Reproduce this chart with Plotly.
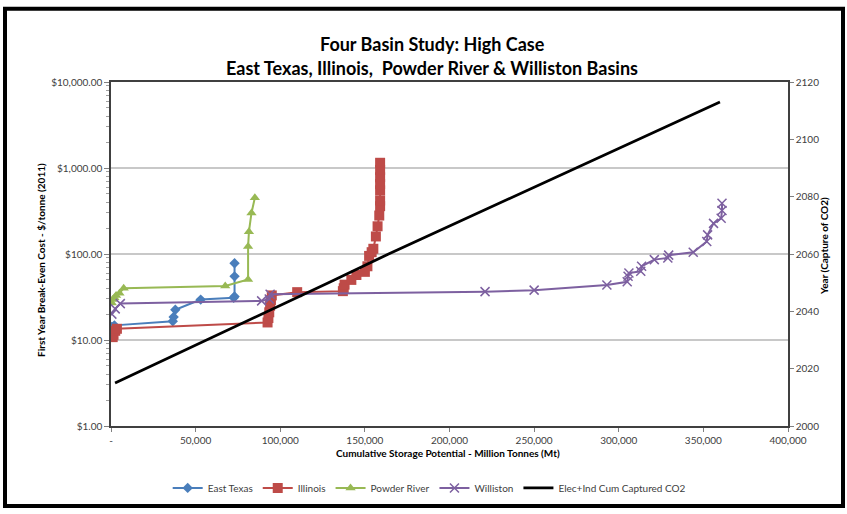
import plotly.graph_objects as go

# ---- data -------------------------------------------------------------
# Cumulative storage potential (Mt) vs first-year break-even cost ($/tonne, 2011)
et_x = [500, 2000, 36500, 37000, 38000, 53000, 72500, 73000, 73000, 73000]
et_y = [14.2, 14.8, 16.5, 18.5, 22.5, 29.5, 31.0, 32.0, 55, 78]

il_x = [1000, 1500, 2500, 3500, 92500, 93000, 93500, 94000, 94500, 95000,
        110000, 137000, 137500, 138000, 142000, 145000, 150000, 151500,
        152500, 154000, 155000, 156500, 157500, 158500, 159000, 159000,
        159000, 159000, 159000, 159000, 159000]
il_y = [10.8, 11.5, 12.8, 13.5, 16, 18, 21, 25, 29, 33,
        36, 37, 40, 44, 50, 57, 62, 72,
        95, 105, 115, 160, 210, 280, 360, 420,
        550, 650, 780, 950, 1150]

pr_x = [500, 1000, 2000, 3000, 5000, 7500, 67500, 81000, 81000, 81500, 83000, 85000]
pr_y = [27, 29.5, 31, 33, 35, 40, 42.5, 50.5, 122, 182, 300, 450]

wl_x = [500, 2500, 5500, 89000, 93500, 94000, 221000, 250000, 293000, 305000,
        305500, 306000, 313000, 313500, 321000, 329000, 329500, 344000,
        352000, 352500, 356000, 360500, 361000, 361000]
wl_y = [20, 23, 26.5, 28.5, 30, 34, 36.5, 38, 43.5, 47.5,
        55, 60, 63, 72, 86, 90, 97, 105,
        140, 167, 227, 260, 320, 390]

# Elec+Ind cumulative captured CO2 (Mt) by capture year
co2_x = [2400, 20500, 56500, 92500, 128500, 164000, 201000, 238000,
         275000, 312000, 349000, 359800]
co2_year = [2015, 2020, 2030, 2040, 2050, 2060, 2070, 2080, 2090, 2100, 2110, 2113]

x_ticks = [0, 50000, 100000, 150000, 200000, 250000, 300000, 350000, 400000]
x_tick_text = ["-", "50,000", "100,000", "150,000", "200,000", "250,000",
               "300,000", "350,000", "400,000"]
cost_ticks = [1, 10, 100, 1000, 10000]
cost_tick_text = ["$1.00", "$10.00", "$100.00", "$1,000.00", "$10,000.00"]
year_ticks = [2000, 2020, 2040, 2060, 2080, 2100, 2120]

# ---- styling ----------------------------------------------------------
FONT = "Lato"
TICK_COLOR = "#404040"
W, H = 847, 514
L, R, T, B = 111, 59, 82, 84
PW, PH = W - L - R, H - T - B


def px_to_paper(px, py):
    return (px - L) / PW, (H - B - py) / PH


# minor log ticks between the decades of the cost axis
minor_vals = [m * d for d in cost_ticks[:-1] for m in range(2, 10)]

fig = go.Figure()

fig.add_trace(go.Scatter(
    x=et_x, y=et_y, name="East Texas", mode="lines+markers",
    line=dict(color="#4A7EBB", width=2),
    marker=dict(symbol="diamond", size=8, color="#4A7EBB"),
))
fig.add_trace(go.Scatter(
    x=il_x, y=il_y, name="Illinois", mode="lines+markers",
    line=dict(color="#BE4B48", width=2),
    marker=dict(symbol="square", size=10, color="#BE4B48"),
))
fig.add_trace(go.Scatter(
    x=pr_x, y=pr_y, name="Powder River", mode="lines+markers",
    line=dict(color="#98B954", width=2),
    marker=dict(symbol="triangle-up", size=9, color="#98B954"),
))
fig.add_trace(go.Scatter(
    x=wl_x, y=wl_y, name="Williston", mode="lines+markers",
    line=dict(color="#7D60A0", width=2),
    marker=dict(symbol="x-thin-open", size=9,
                line=dict(color="#A898C6", width=1.5)),
))
fig.add_trace(go.Scatter(
    x=co2_x, y=co2_year, name="Elec+Ind Cum Captured CO2", mode="lines",
    line=dict(color="#000000", width=2.8), yaxis="y2",
))

axis_font = dict(family=FONT, size=10, color=TICK_COLOR)

fig.update_layout(
    width=W, height=H,
    margin=dict(l=L, r=R, t=T, b=B, pad=0),
    paper_bgcolor="white", plot_bgcolor="white",
    font=dict(family=FONT, color="#000000"),
    xaxis=dict(
        range=[0, 400000], tickvals=x_ticks, ticktext=x_tick_text,
        ticks="outside", ticklen=4, tickcolor="#808080",
        showgrid=False, zeroline=False,
        showline=True, linecolor="#404040", linewidth=1.5, mirror=True,
        tickfont=axis_font,
    ),
    yaxis=dict(
        type="log", range=[0, 4], tickvals=cost_ticks, ticktext=cost_tick_text,
        ticks="outside", ticklen=5, tickcolor="#808080",
        minor=dict(tickmode="array", tickvals=minor_vals, ticks="outside",
                   ticklen=3, tickcolor="#A0A0A0", showgrid=False),
        showgrid=True, gridcolor="#C8C8C8", gridwidth=1.5,
        zeroline=False,
        showline=True, linecolor="#404040", linewidth=1.5, mirror=True,
        tickfont=axis_font,
    ),
    yaxis2=dict(
        overlaying="y", side="right", range=[2000, 2120], tickvals=year_ticks,
        ticks="outside", ticklen=4, tickcolor="#808080",
        showgrid=False, zeroline=False,
        showline=True, linecolor="#404040", linewidth=1.5,
        tickfont=axis_font,
    ),
    showlegend=True,
    legend=dict(
        orientation="h", x=0.47, xanchor="center", y=-0.18, yanchor="middle",
        font=dict(family=FONT, size=10, color=TICK_COLOR),
        itemwidth=30, tracegroupgap=0, bgcolor="rgba(0,0,0,0)",
    ),
)

# titles
tx, ty1 = px_to_paper(432, 30)
_, ty2 = px_to_paper(432, 55)
title_font = dict(family=FONT, size=18, color="#000000")
fig.add_annotation(x=tx, y=ty1, xref="paper", yref="paper", showarrow=False,
                   text="<b>Four Basin Study: High Case</b>", font=title_font)
fig.add_annotation(x=tx, y=ty2, xref="paper", yref="paper", showarrow=False,
                   text="<b>East Texas, Illinois,  Powder River & Williston Basins</b>",
                   font=title_font)

label_font = dict(family=FONT, size=10, color="#000000")
ax, ay = px_to_paper(448, 465)
fig.add_annotation(x=ax, y=ay, xref="paper", yref="paper", showarrow=False,
                   text="<b>Cumulative Storage Potential - Million Tonnes (Mt)</b>",
                   font=label_font)
lx, ly = px_to_paper(33, 262)
fig.add_annotation(x=lx, y=ly, xref="paper", yref="paper", showarrow=False,
                   textangle=-90,
                   text="<b>First Year Break-Even Cost - $/tonne (2011)</b>",
                   font=label_font)
rx, ry = px_to_paper(832, 248)
fig.add_annotation(x=rx, y=ry, xref="paper", yref="paper", showarrow=False,
                   textangle=-90, text="<b>Year (Capture of CO2)</b>",
                   font=label_font)

# outer frame
x0, y0 = px_to_paper(5, 511)
x1, y1 = px_to_paper(843, 8)
fig.add_shape(type="rect", xref="paper", yref="paper",
              x0=x0, y0=y0, x1=x1, y1=y1,
              line=dict(color="#000000", width=4), layer="above")

fig.write_html("out.html")
